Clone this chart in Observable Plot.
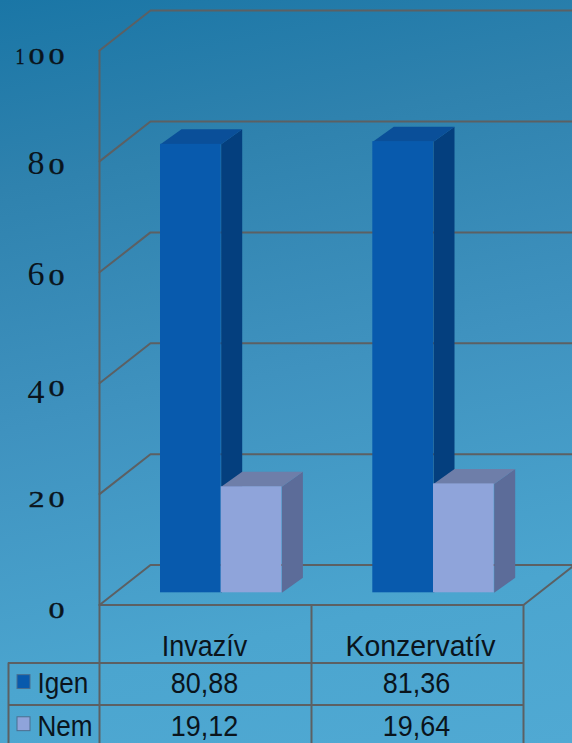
<!DOCTYPE html>
<html>
<head>
<meta charset="utf-8">
<script src="https://cdn.jsdelivr.net/npm/d3@7"></script>
<script src="https://cdn.jsdelivr.net/npm/@observablehq/plot@0.6"></script>
<style>
  html, body { margin: 0; padding: 0; width: 572px; height: 743px; overflow: hidden; }
  body { background: linear-gradient(168deg, #1a76a6 0%, #2f82ae 22%, #3f92bf 50%, #4ba5cf 80%, #50a9d3 100%); }
  svg { display: block; }
</style>
</head>
<body>
<script>
// Survey results per treatment group
const categories = ["Invazív", "Konzervatív"];
const seriesNames = ["Igen", "Nem"];
const igen = [80.88, 81.36];
const nem = [19.12, 19.64];
const igenLabels = ["80,88", "81,36"];
const nemLabels = ["19,12", "19,64"];
const yTicks = [0, 20, 40, 60, 80, 100];

// Oblique projection of the chart box, x in layout units, y in value units
const wallLeft = 99, wallRight = 523, wallDepthX = 51, wallDepthY = 7.2;
const frameEnd = 572;
const barDepthX = 21, barDepthY = 2.7, barBase = 2.2, barWidth = 60.7;
const groupLeft = [160, 372.3];
const columnEdges = [99, 311, 523];
const headerCentres = [204, 420];
const tableLeft = 8, labelX = 64;
const rowLines = [-10.47, -18.05], tableBottom = -25;
const headerRow = -7.5, igenRow = -14.2, nemRow = -21.9;
const swatchRows = [-13.9, -21.5];

const faceColors = {
  Igen: {front: "#085aad", side: "#043f7e", top: "#0a4f99"},
  Nem: {front: "#8fa4da", side: "#5c6c99", top: "#6e7ea9"}
};
const gridColor = "#5c6063";
const inkColor = "#0a141c";

// Old-style figures: body height for 0/1/2, ascending 6/8, descending 4
const figureStyle = {
  "0": {size: 24, width: 16, gap: 4, base: 13, weight: 0.4},
  "1": {size: 24, width: 9, gap: 2, base: 13, weight: 0.4},
  "2": {size: 24, width: 16, gap: 4, base: 13, weight: 0.4},
  "4": {size: 34, width: 17, gap: 3, base: 20, weight: 0},
  "6": {size: 33, width: 17, gap: 4, base: 13, weight: 0},
  "8": {size: 33, width: 17, gap: 4, base: 13, weight: 0}
};

const bars = categories.flatMap((category, i) => [
  {category, series: "Igen", value: igen[i], x1: groupLeft[i], x2: groupLeft[i] + barWidth},
  {category, series: "Nem", value: nem[i], x1: groupLeft[i] + barWidth, x2: groupLeft[i] + 2 * barWidth}
]);

// Side and top faces of each bar as closed polygons, painted back to front
const faces = bars.flatMap((b, i) => {
  const top = barBase + b.value, c = faceColors[b.series];
  return [
    [[b.x2, barBase], [b.x2 + barDepthX, barBase + barDepthY], [b.x2 + barDepthX, top + barDepthY], [b.x2, top]]
      .map(([x, y]) => ({id: `side${i}`, x, y, fill: c.side})),
    [[b.x1, top], [b.x1 + barDepthX, top + barDepthY], [b.x2 + barDepthX, top + barDepthY], [b.x2, top]]
      .map(([x, y]) => ({id: `top${i}`, x, y, fill: c.top}))
  ];
}).flat();

// Walls: each gridline runs up the side wall and along the back wall
const gridlines = yTicks.flatMap((v) => [
  {v, x: wallLeft, y: v},
  {v, x: wallLeft + wallDepthX, y: v + wallDepthY},
  {v, x: frameEnd, y: v + wallDepthY}
]);
const floorEdge = [
  {x: wallLeft, y: 0}, {x: wallRight, y: 0}, {x: wallRight + wallDepthX, y: wallDepthY}
];

const legendSwatches = [
  {row: swatchRows[0], fill: faceColors.Igen.front},
  {row: swatchRows[1], fill: faceColors.Nem.front}
];
const tableText = {className: "table-text", fontFamily: "Liberation Sans", fontSize: 29, fill: inkColor};

const chart = Plot.plot({
  width: 572,
  height: 743,
  margin: 0,
  style: {background: "transparent"},
  x: {domain: [0, 572], range: [0, 572], axis: null},
  y: {domain: [0, 100], range: [604.5, 50], axis: null},
  marks: [
    Plot.line(gridlines, {x: "x", y: "y", z: "v", stroke: gridColor, strokeWidth: 2}),
    Plot.line(floorEdge, {x: "x", y: "y", stroke: gridColor, strokeWidth: 2}),
    Plot.ruleX([wallLeft], {y1: 0, y2: 100, stroke: gridColor, strokeWidth: 2}),
    Plot.text(yTicks, {
      className: "tick-figures", x: labelX, y: (d) => d, text: String, textAnchor: "start",
      fontFamily: "Liberation Serif", fontSize: 22, fill: inkColor
    }),
    // Bars, each side and top face below its own front
    ...bars.map((b, i) => [
      Plot.line(faces.filter((f) => f.id === `side${i}` || f.id === `top${i}`), {
        x: "x", y: "y", z: "id", fill: "fill", stroke: "none"
      }),
      Plot.rect([b], {
        x1: "x1", x2: "x2", y1: barBase, y2: (d) => barBase + d.value,
        fill: faceColors[b.series].front
      })
    ]).flat(),
    // Data table under the plot
    Plot.ruleX(columnEdges, {y1: 0, y2: tableBottom, stroke: gridColor, strokeWidth: 2}),
    Plot.ruleX([tableLeft], {y1: rowLines[0], y2: tableBottom, stroke: gridColor, strokeWidth: 2}),
    Plot.ruleY(rowLines, {x1: tableLeft, x2: wallRight, stroke: gridColor, strokeWidth: 2}),
    Plot.text(categories, {
      x: (d, i) => headerCentres[i], y: headerRow, text: (d) => d, ...tableText
    }),
    Plot.text(igenLabels, {
      x: (d, i) => (columnEdges[i] + columnEdges[i + 1]) / 2 - 1, y: igenRow, text: (d) => d, ...tableText
    }),
    Plot.text(nemLabels, {
      x: (d, i) => (columnEdges[i] + columnEdges[i + 1]) / 2 - 1, y: nemRow, text: (d) => d, ...tableText
    }),
    Plot.rect(legendSwatches, {
      x1: 17, x2: 30, y1: (d) => d.row - 1.25, y2: (d) => d.row + 1.25,
      fill: "fill", stroke: "#4a6f8f", strokeWidth: 1
    }),
    Plot.text(seriesNames, {
      x: 37, y: (d, i) => [igenRow, nemRow][i], text: (d) => d, textAnchor: "start", ...tableText
    })
  ]
});
document.body.appendChild(chart);

// Table text is condensed: tall letters on a narrower advance, long words less so
d3.select(chart).selectAll(".table-text text").each(function () {
  const word = this.textContent;
  const fit = word.length > 8 ? 0.98 : seriesNames.includes(word) ? 0.9 : 0.93;
  this.setAttribute("textLength", this.getComputedTextLength() * fit);
  this.setAttribute("lengthAdjust", "spacingAndGlyphs");
});

// Set the axis numbers digit by digit in old-style proportions
d3.select(chart).selectAll(".tick-figures text").each(function () {
  const digits = Array.from(this.textContent);
  const total = d3.sum(digits, (d, i) => figureStyle[d].width + (i ? figureStyle[d].gap : 0));
  let pos = -total;
  this.removeAttribute("dy");
  this.textContent = "";
  digits.forEach((d, i) => {
    const s = figureStyle[d];
    if (i) pos += s.gap;
    const span = document.createElementNS("http://www.w3.org/2000/svg", "tspan");
    span.textContent = d;
    span.setAttribute("x", pos);
    span.setAttribute("y", s.base);
    span.setAttribute("font-size", s.size);
    span.setAttribute("textLength", s.width);
    span.setAttribute("lengthAdjust", "spacingAndGlyphs");
    if (s.weight) {
      span.setAttribute("stroke", inkColor);
      span.setAttribute("stroke-width", s.weight);
    }
    this.appendChild(span);
    pos += s.width;
  });
});
</script>
</body>
</html>
